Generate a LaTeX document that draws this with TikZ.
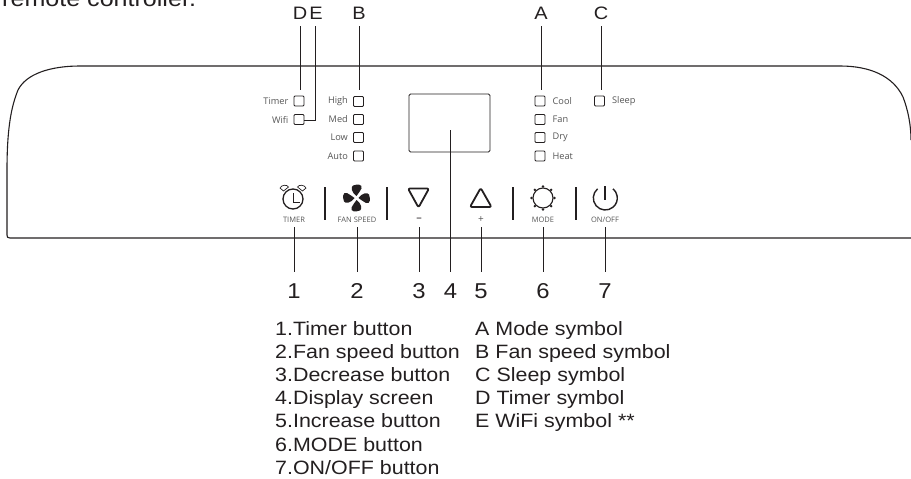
\documentclass[tikz,border=0pt]{standalone}
\usepackage{fontspec}
\setmainfont{Liberation Sans}
\newfontfamily\panelfont{Open Sans}
\newfontfamily\widefont[FakeStretch=1.11]{Liberation Sans}
\usepackage{tikz}
\usetikzlibrary{calc}
\definecolor{acInk}{RGB}{35,31,32}
\definecolor{acGrey}{RGB}{85,85,85}
\tikzset{
  lead/.style={draw=acInk, line width=0.9pt},
  letter/.style={font=\widefont\fontsize{18}{18}\selectfont, text=acInk, inner sep=0pt},
  numeral/.style={font=\widefont\fontsize{21.5}{22}\selectfont, text=acInk, inner sep=0pt},
  ledbox/.style={draw=acInk, line width=0.9pt, rounded corners=1pt, minimum size=10pt, inner sep=0pt},
  ledtext/.style={font=\panelfont\fontsize{9.2}{10}\selectfont, text=acGrey, inner sep=0pt},
  btntext/.style={font=\panelfont\fontsize{7.5}{8}\selectfont, text=acGrey, inner sep=0pt},
  legend/.style={font=\widefont\fontsize{19.3}{23.2}\selectfont, text=acInk, inner sep=0pt, align=left, anchor=north west},
  icon/.style={draw=acInk, line width=1.4pt}
}
\begin{document}
\begin{tikzpicture}[x=1pt, y=-1pt]
\useasboundingbox (0,0) rectangle (911,479);
\clip (0,0) rectangle (911,479);
\node[font=\widefont\fontsize{22.6}{23}\selectfont, text=acInk, inner sep=0pt, anchor=base west] (intro) at (2,6) {remote controller.};
% panel outline
\draw[lead, line width=1.1pt] (911,238) -- (10,238) .. controls (7.5,238) and (7,237) .. (7,235)
  -- (7,170) .. controls (7,125) and (12,105) .. (18,90) .. controls (26,74) and (50,66) .. (80,66)
  -- (840,66) .. controls (870,66) and (893,76) .. (903,97) .. controls (908,110) and (911,125) .. (911,140);
% display
\node[draw=acInk, line width=0.8pt, rounded corners=1.5pt, minimum width=81pt, minimum height=58pt, inner sep=0pt] (display) at (449.5,123) {};
% indicators
\foreach \nm/\x/\y in {timer/299/101, wifi/299/119.5, high/358.5/101.5, med/358.5/119.5, low/358.5/137.5, auto/358.5/156,
  cool/540/101, fan/540/119.5, dry/540/137.5, heat/540/156, sleep/599.5/101}{
  \node[ledbox] (led\nm) at (\x,\y) {};
}
\foreach \nm/\txt in {timer/Timer, wifi/Wifi, high/High, med/Med, low/Low, auto/Auto}{
  \node[ledtext, anchor=east] (txt\nm) at ($(led\nm.west)+(-5,0)$) {\txt};
}
\foreach \nm/\txt in {cool/Cool, fan/Fan, dry/Dry, heat/Heat, sleep/Sleep}{
  \node[ledtext, anchor=west] (txt\nm) at ($(led\nm.east)+(7,0)$) {\txt};
}
% letters on top
\foreach \nm/\x/\led in {D/300/timer, B/359/high, A/541/cool, C/601/sleep}{
  \node[letter] (let\nm) at (\x,13) {\nm};
  \draw[lead] (\x,26) -- (\x,90);
}
\node[letter] (letE) at (316,13) {E};
\coordinate (elbow) at (315,120.5);
\draw[lead] (315,26) -- (elbow) -- (ledwifi.east |- elbow);
% button captions and numbers
\foreach \n/\x/\txt in {1/294/TIMER, 2/357/FAN SPEED, 3/419/{\fontsize{11}{11}\selectfont\color{acInk}–}, 5/481/{\fontsize{10}{10}\selectfont +}, 6/543/MODE, 7/605/{ON/OFF}}{
  \node[btntext] (cap\n) at (\x,219.5) {\txt};
  \node[numeral] (num\n) at (\x,291) {\n};
  \coordinate (top\n) at (\x,227);
  \draw[lead] (top\n) -- (\x,272);
}
\node[numeral] (num4) at (450.5,291) {4};
\coordinate (top4) at (450.5,130);
\draw[lead] (top4) -- (450.5,272);
% separators
\foreach \x in {325,387,513,576}{
  \draw[lead, line width=1.1pt] (\x,187) -- (\x,219.5);
}
% clock
\draw[icon, line width=1.3pt] (293,199) circle (10);
\draw[icon, line width=1pt] (293,193) -- (293,202.5) -- (300,202.5);
\draw[icon, line width=0.7pt, fill=white] (283.5,191) -- (280,188) .. controls (282,184.5) and (287,184.5) .. (288.5,187) -- cycle;
\draw[icon, line width=0.7pt, fill=white] (302.5,191) -- (306,188) .. controls (304,184.5) and (299,184.5) .. (297.5,187) -- cycle;
% fan
\foreach \a in {0,90,180,270}{
  \fill[acInk, rotate around={\a:(356.5,198)}] (356.5,196) .. controls (351.5,192.5) and (350.5,187) .. (353,185.5) .. controls (357,184) and (363,184) .. (361.5,188.5) .. controls (360.5,191.5) and (358,193) .. (356.5,196) -- cycle;
}
% up and down
\draw[icon, line width=1.8pt, line join=round, rounded corners=2pt] (408,188.5) -- (429,188.5) -- (418.5,207.5) -- cycle;
\draw[icon, line width=1.8pt, line join=round, rounded corners=2pt] (470,207) -- (491.5,207) -- (480.7,188) -- cycle;
% mode
\draw[icon, line width=1.1pt] (543,198) circle (10);
\foreach \a in {0,45,...,315}{
  \fill[acInk] ($(543,198)+(\a:11.5pt)$) circle (1.4);
}
% on off
\draw[icon] (597.6,188.8) arc[start angle=230, end angle=-50, radius=12];
\draw[icon, line width=2pt] (605,186) -- (605,200);
% legend
\node[legend] (btnlist) at (275,321) {1.Timer button\\2.Fan speed button\\3.Decrease button\\4.Display screen\\5.Increase button\\6.MODE button\\7.ON/OFF button};
\node[legend] (symlist) at (475,321) {A Mode symbol\\B Fan speed symbol\\C Sleep symbol\\D Timer symbol\\E WiFi symbol **};
\end{tikzpicture}
\end{document}
